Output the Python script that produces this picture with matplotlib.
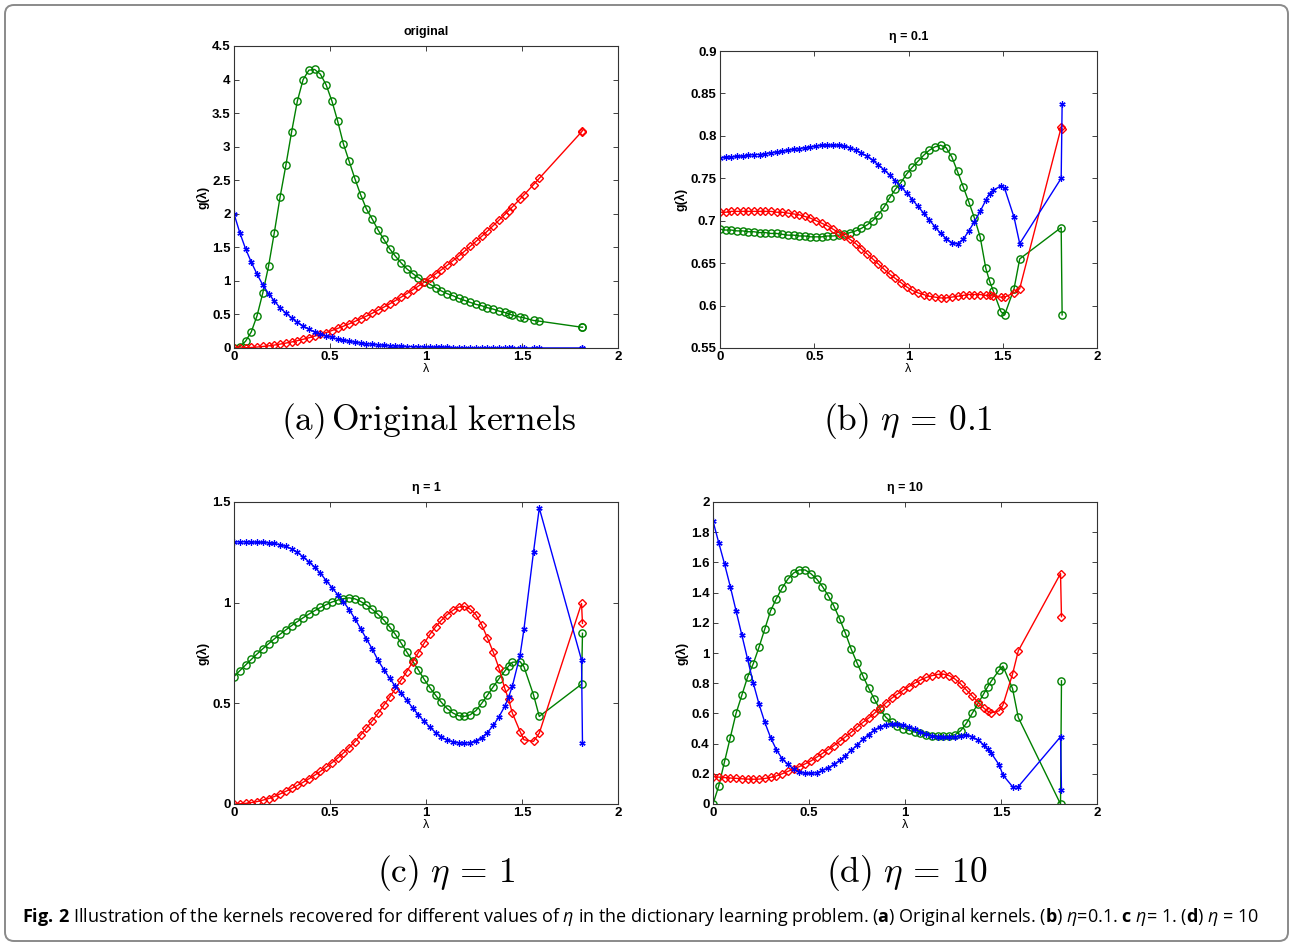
import numpy as np
import matplotlib.pyplot as plt
from matplotlib.patches import FancyBboxPatch
from matplotlib.ticker import FormatStrFormatter

plt.rcParams['font.family'] = ['Liberation Sans', 'DejaVu Sans']
plt.rcParams['mathtext.fontset'] = 'custom'
plt.rcParams['mathtext.rm'] = 'Open Sans'
plt.rcParams['mathtext.it'] = 'Open Sans:italic'
plt.rcParams['mathtext.bf'] = 'Open Sans:bold'

# eigenvalues (shared x positions of all kernels)
lam = [0.00, 0.03, 0.06, 0.09, 0.12, 0.15, 0.18, 0.21, 0.24, 0.27,
       0.30, 0.33, 0.36, 0.39, 0.42, 0.45, 0.48, 0.51, 0.54, 0.57,
       0.60, 0.63, 0.66, 0.69, 0.72, 0.75, 0.78, 0.81, 0.84, 0.87,
       0.90, 0.93, 0.96, 0.99, 1.02, 1.05, 1.08, 1.11, 1.14, 1.17,
       1.20, 1.23, 1.26, 1.29, 1.32, 1.35, 1.38, 1.41, 1.43, 1.45,
       1.49, 1.51, 1.56, 1.59, 1.81, 1.815]

# (a) original kernels
a_blue = [2.00, 1.72, 1.48, 1.28, 1.10, 0.94, 0.81, 0.70, 0.60, 0.52,
          0.45, 0.38, 0.33, 0.28, 0.24, 0.21, 0.18, 0.16, 0.13, 0.12,
          0.10, 0.086, 0.074, 0.064, 0.055, 0.047, 0.040, 0.035, 0.030, 0.026,
          0.022, 0.019, 0.016, 0.014, 0.012, 0.010, 0.009, 0.008, 0.007, 0.006,
          0.005, 0.004, 0.004, 0.003, 0.003, 0.002, 0.002, 0.002, 0.002, 0.001,
          0.001, 0.001, 0.001, 0.001, 0.001, 0.001]
a_green = [0.00, 0.02, 0.10, 0.24, 0.48, 0.82, 1.22, 1.72, 2.25, 2.72,
           3.22, 3.68, 4.00, 4.14, 4.15, 4.08, 3.92, 3.68, 3.38, 3.04,
           2.78, 2.52, 2.28, 2.07, 1.92, 1.76, 1.62, 1.48, 1.37, 1.27,
           1.18, 1.11, 1.05, 0.99, 0.95, 0.90, 0.85, 0.81, 0.78, 0.74,
           0.71, 0.68, 0.65, 0.63, 0.60, 0.58, 0.55, 0.53, 0.51, 0.49,
           0.46, 0.45, 0.41, 0.40, 0.31, 0.31]
a_red = [0.000, 0.001, 0.004, 0.008, 0.014, 0.023, 0.032, 0.044, 0.058, 0.073,
         0.090, 0.109, 0.130, 0.152, 0.176, 0.203, 0.230, 0.260, 0.292, 0.325,
         0.360, 0.397, 0.436, 0.476, 0.518, 0.563, 0.608, 0.656, 0.706, 0.757,
         0.810, 0.865, 0.922, 0.980, 1.040, 1.103, 1.166, 1.232, 1.300, 1.369,
         1.440, 1.513, 1.588, 1.664, 1.742, 1.823, 1.904, 1.988, 2.045, 2.103,
         2.220, 2.280, 2.434, 2.528, 3.220, 3.240]

# (b) eta = 0.1
b_blue = [0.774, 0.775, 0.775, 0.776, 0.776, 0.777, 0.778, 0.778, 0.779, 0.780,
          0.781, 0.782, 0.783, 0.784, 0.785, 0.786, 0.787, 0.788, 0.789, 0.789,
          0.789, 0.789, 0.788, 0.786, 0.783, 0.780, 0.776, 0.771, 0.766, 0.760,
          0.754, 0.747, 0.740, 0.733, 0.725, 0.717, 0.709, 0.701, 0.693, 0.685,
          0.679, 0.674, 0.673, 0.678, 0.688, 0.699, 0.711, 0.724, 0.732, 0.736,
          0.741, 0.738, 0.704, 0.673, 0.750, 0.837]
b_green = [0.690, 0.689, 0.689, 0.688, 0.688, 0.687, 0.687, 0.686, 0.686, 0.685,
           0.685, 0.684, 0.683, 0.683, 0.682, 0.682, 0.681, 0.681, 0.681, 0.682,
           0.682, 0.683, 0.684, 0.686, 0.688, 0.691, 0.695, 0.700, 0.707, 0.716,
           0.727, 0.737, 0.745, 0.755, 0.763, 0.770, 0.777, 0.783, 0.787, 0.789,
           0.786, 0.775, 0.758, 0.740, 0.722, 0.703, 0.681, 0.644, 0.629, 0.617,
           0.593, 0.589, 0.620, 0.655, 0.692, 0.589]
b_red = [0.710, 0.710, 0.711, 0.711, 0.711, 0.711, 0.711, 0.711, 0.711, 0.711,
         0.710, 0.710, 0.709, 0.708, 0.707, 0.705, 0.703, 0.700, 0.697, 0.694,
         0.690, 0.686, 0.682, 0.678, 0.673, 0.667, 0.661, 0.655, 0.649, 0.643,
         0.637, 0.632, 0.627, 0.622, 0.618, 0.615, 0.613, 0.611, 0.610, 0.609,
         0.609, 0.610, 0.611, 0.612, 0.613, 0.613, 0.613, 0.612, 0.612, 0.611,
         0.610, 0.610, 0.615, 0.620, 0.810, 0.808]

# (c) eta = 1
c_blue = [1.302, 1.302, 1.302, 1.301, 1.300, 1.299, 1.297, 1.294, 1.288, 1.279,
          1.267, 1.250, 1.228, 1.203, 1.176, 1.146, 1.110, 1.075, 1.040, 1.005,
          0.965, 0.920, 0.870, 0.820, 0.770, 0.714, 0.668, 0.625, 0.585, 0.550,
          0.515, 0.478, 0.443, 0.411, 0.382, 0.355, 0.333, 0.318, 0.309, 0.304,
          0.302, 0.305, 0.314, 0.330, 0.355, 0.390, 0.433, 0.485, 0.530, 0.586,
          0.740, 0.867, 1.252, 1.470, 0.715, 0.302]
c_green = [0.633, 0.662, 0.690, 0.718, 0.745, 0.771, 0.796, 0.820, 0.843, 0.865,
           0.886, 0.906, 0.925, 0.943, 0.960, 0.976, 0.990, 1.003, 1.013, 1.020,
           1.024, 1.019, 1.006, 0.988, 0.967, 0.942, 0.914, 0.880, 0.843, 0.800,
           0.755, 0.710, 0.666, 0.620, 0.578, 0.540, 0.505, 0.474, 0.452, 0.438,
           0.435, 0.443, 0.464, 0.500, 0.540, 0.582, 0.622, 0.660, 0.685, 0.704,
           0.707, 0.682, 0.542, 0.435, 0.595, 0.848]
c_red = [0.000, 0.001, 0.003, 0.007, 0.012, 0.019, 0.027, 0.037, 0.050, 0.063,
         0.077, 0.092, 0.108, 0.125, 0.143, 0.162, 0.183, 0.205, 0.228, 0.253,
         0.280, 0.310, 0.343, 0.378, 0.413, 0.450, 0.490, 0.530, 0.572, 0.615,
         0.658, 0.705, 0.752, 0.798, 0.842, 0.880, 0.912, 0.940, 0.962, 0.978,
         0.982, 0.968, 0.940, 0.890, 0.825, 0.755, 0.675, 0.575, 0.520, 0.451,
         0.360, 0.319, 0.311, 0.352, 0.996, 0.897]

# (d) eta = 10
d_blue = [1.874, 1.730, 1.590, 1.440, 1.280, 1.120, 0.960, 0.800, 0.660, 0.540,
          0.440, 0.360, 0.300, 0.262, 0.232, 0.212, 0.203, 0.202, 0.208, 0.222,
          0.240, 0.262, 0.290, 0.320, 0.355, 0.390, 0.428, 0.460, 0.490, 0.512,
          0.526, 0.530, 0.528, 0.523, 0.510, 0.495, 0.478, 0.465, 0.453, 0.445,
          0.442, 0.442, 0.446, 0.452, 0.456, 0.447, 0.423, 0.392, 0.362, 0.335,
          0.260, 0.192, 0.115, 0.115, 0.445, 0.093]
d_green = [0.00, 0.12, 0.28, 0.44, 0.60, 0.72, 0.84, 0.93, 1.04, 1.16,
           1.28, 1.36, 1.43, 1.49, 1.53, 1.55, 1.55, 1.525, 1.49, 1.44,
           1.38, 1.31, 1.225, 1.13, 1.025, 0.935, 0.85, 0.77, 0.695, 0.627,
           0.575, 0.540, 0.515, 0.500, 0.488, 0.477, 0.467, 0.460, 0.453, 0.450,
           0.448, 0.450, 0.458, 0.485, 0.535, 0.600, 0.665, 0.730, 0.775, 0.815,
           0.886, 0.913, 0.765, 0.573, 0.000, 0.816]
d_red = [0.181, 0.178, 0.175, 0.172, 0.170, 0.167, 0.165, 0.164, 0.165, 0.169,
         0.176, 0.186, 0.200, 0.216, 0.232, 0.248, 0.266, 0.285, 0.310, 0.335,
         0.360, 0.387, 0.415, 0.445, 0.475, 0.508, 0.540, 0.568, 0.600, 0.635,
         0.668, 0.700, 0.728, 0.752, 0.778, 0.800, 0.820, 0.838, 0.850, 0.858,
         0.860, 0.850, 0.828, 0.795, 0.755, 0.715, 0.675, 0.636, 0.615, 0.604,
         0.617, 0.655, 0.860, 1.014, 1.526, 1.240]

titles = ['original', 'η = 0.1', 'η = 1', 'η = 10']
captions = [r'$\mathrm{(a)\,Original\ kernels}$', r'$\mathrm{(b)}\ \eta\,=\,0.1$',
            r'$\mathrm{(c)}\ \eta\,=\,1$', r'$\mathrm{(d)}\ \eta\,=\,10$']
xticks = [0, 0.5, 1, 1.5, 2]
yticks = [np.arange(0, 4.51, 0.5), np.arange(0.55, 0.901, 0.05),
          np.arange(0, 1.51, 0.5), np.arange(0, 2.01, 0.2)]
ylims = [(0, 4.5), (0.55, 0.9), (0, 1.5), (0, 2)]
series = [(a_blue, a_green, a_red), (b_blue, b_green, b_red),
          (c_blue, c_green, c_red), (d_blue, d_green, d_red)]

W, H = 1291, 944
fig = plt.figure(figsize=(W / 100, H / 100), dpi=100)

# axes boxes in pixels: left, top, right, bottom
boxes = [(234, 46, 618, 348), (720, 51, 1097, 348),
         (234, 502, 618, 804), (713, 502, 1097, 804)]
cap_pos = [(428, 430), (908, 430), (446, 882), (907, 882)]

bg = fig.add_axes([0, 0, 1, 1], zorder=-1)
bg.set_xlim(0, W)
bg.set_ylim(H, 0)
bg.axis('off')
bg.add_patch(FancyBboxPatch((5, 5), 1283, 936, boxstyle='round,pad=0,rounding_size=9',
                            fc='none', ec='#8a8a8a', lw=1.4))

for i in range(4):
    l, t, r, b = boxes[i]
    ax = fig.add_axes([l / W, 1 - b / H, (r - l) / W, (b - t) / H])
    blue, green, red = series[i]
    ax.plot(lam, green, '-', color='#008000', lw=1, marker='o', ms=5.2, mfc='none', mew=1.0)
    ax.plot(lam, red, '-', color='#ff0000', lw=1, marker='D', ms=4.2, mfc='none', mew=1.0)
    ax.plot(lam, blue, '-', color='#0000ff', lw=1, marker=(6, 2, 0), ms=4.5, mew=0.9)
    ax.set_xlim(0, 2)
    ax.set_ylim(*ylims[i])
    ax.set_xticks(xticks)
    ax.set_yticks(yticks[i])
    ax.xaxis.set_major_formatter(FormatStrFormatter('%g'))
    ax.yaxis.set_major_formatter(FormatStrFormatter('%g'))
    ax.tick_params(direction='in', top=True, right=True, length=3.5, width=0.6,
                   labelsize=9.5, pad=2.5, colors='#222222', labelcolor='black')
    for lbl in ax.get_xticklabels() + ax.get_yticklabels():
        lbl.set_fontweight('bold')
    for s in ax.spines.values():
        s.set_linewidth(0.8)
        s.set_color('#333333')
    ax.set_title(titles[i], fontsize=9, fontweight='bold', pad=8)
    ax.set_ylabel('g(λ)', fontsize=9, fontweight='bold', labelpad=2)
    ax.set_xlabel('λ', fontsize=9, labelpad=0)
    cx, cy = cap_pos[i]
    bg.text(cx, cy, captions[i], ha='center', va='baseline', fontsize=25.5,
            math_fontfamily='cm')

caption = (r'$\mathbf{Fig.\,2}$ Illustration of the kernels recovered for different values of '
           r'$\eta$ in the dictionary learning problem. ($\mathbf{a}$) Original kernels. '
           r'($\mathbf{b}$) $\eta$=0.1. $\mathbf{c}$ $\eta$= 1. ($\mathbf{d}$) $\eta$ = 10')
bg.text(22, 922, caption, ha='left', va='baseline', fontsize=13.0,
        family='Open Sans', math_fontfamily='custom')

fig.savefig('out.png', dpi=100)
